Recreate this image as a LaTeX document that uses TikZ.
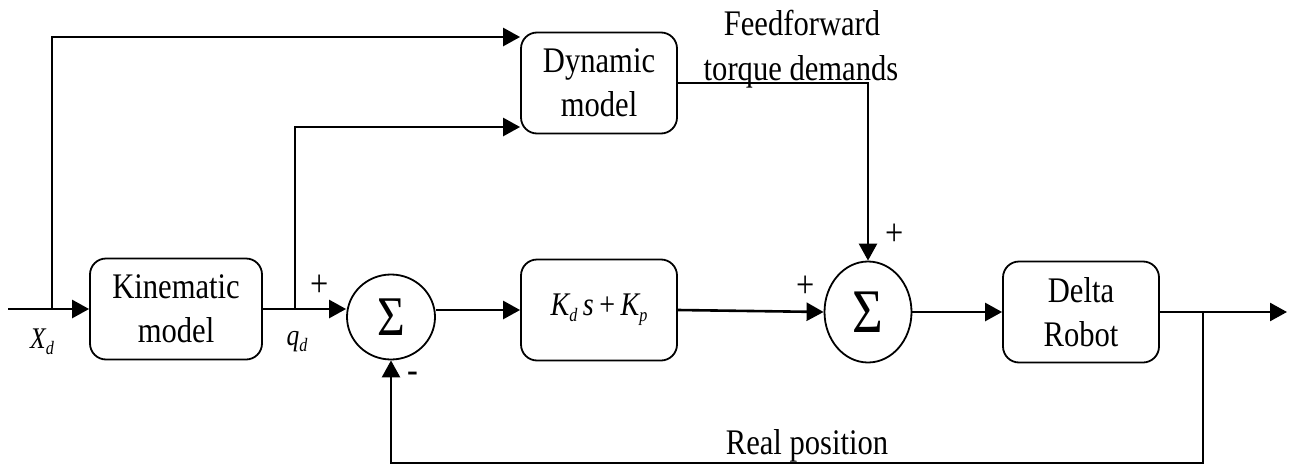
\documentclass[tikz,border=0pt]{standalone}
\usepackage{fontspec}
\setmainfont{Liberation Serif}[FakeStretch=0.85]
\usetikzlibrary{arrows.meta,shapes.geometric}

\newcommand{\subs}[1]{\raisebox{-6pt}{\fontsize{19}{19}\selectfont #1}}

\begin{document}
\begin{tikzpicture}[x=1pt,y=-1pt,
  blk/.style={draw, line width=1.8pt, rounded corners=16pt,
    minimum width=#1, minimum height=101pt, align=center,
    font=\fontsize{36}{44}\selectfont, inner sep=0pt},
  sumnode/.style={draw, ellipse, line width=1.8pt, inner sep=0pt},
  sig/.style={line width=2.6pt, -{Triangle[length=17pt,width=18pt]}},
  lbl/.style={font=\fontsize{38}{38}\selectfont, inner sep=0pt},
  txt/.style={font=\fontsize{36}{44}\selectfont, inner sep=0pt},
  mlbl/.style={font=\fontsize{30}{30}\selectfont\itshape, inner sep=0pt}]

\useasboundingbox (0,0) rectangle (1292,471);

% blocks
\node[blk=172pt] (kin) at (176,309) {Kinematic\\model};
\node[blk=156pt] (dyn) at (599,83) {Dynamic\\model};
\node[blk=156pt, font=\fontsize{33}{33}\selectfont] (pd) at (599,310)
  {\itshape K\subs{d}\,s\,{\upshape +}\,K\subs{p}};
\node[blk=156pt] (rob) at (1081,312) {Delta\\Robot};

% summing junctions
\node[sumnode, minimum width=88pt, minimum height=85pt] (s1) at (391,317)
  {\fontsize{56}{56}\selectfont Σ};
\node[sumnode, minimum width=87pt, minimum height=101pt] (s2) at (868,312)
  {\fontsize{62}{62}\selectfont Σ};

% branch points and free ends
\coordinate (in) at (8,309);
\coordinate (b1) at (52,309);
\coordinate (t1) at (52,37);
\coordinate (b2) at (295,309);
\coordinate (t2) at (295,127);
\coordinate (b3) at (1203,312);
\coordinate (fb) at (1203,463);
\coordinate (out) at (1287,312);

% signal paths
\draw[sig] (in) -- (kin.west);
\draw[sig] (kin.east) -- (kin.east -| s1.west);
\draw[sig] (s1.east |- pd.west) -- (pd.west);
\draw[sig] (pd.east) -- (s2.west);
\draw[sig] (s2.east) -- (rob.west);
\draw[sig] (rob.east) -- (out);
\draw[sig] (b1) -- (t1) -- (t1 -| dyn.west);
\draw[sig] (b2) -- (t2) -- (t2 -| dyn.west);
\draw[sig] (dyn.east) -| (s2.north);
\draw[sig] (b3) -- (fb) -| (s1.south);

% signs
\node[lbl] at (320,286) {+};
\node[lbl] at (413,377) {-};
\node[lbl] at (806,287) {+};
\node[lbl] at (895,235) {+};

% signal labels
\node[mlbl] (xd) at (42,342) {X\subs{d}};
\node[mlbl] (qd) at (297,342) {q\subs{d}};
\node[txt, anchor=base] (ff1) at (802,35) {Feedforward};
\node[txt, anchor=base] (ff2) at (801,80) {torque demands};
\node[txt, anchor=base] (rp) at (807,454) {Real position};

\end{tikzpicture}
\end{document}
